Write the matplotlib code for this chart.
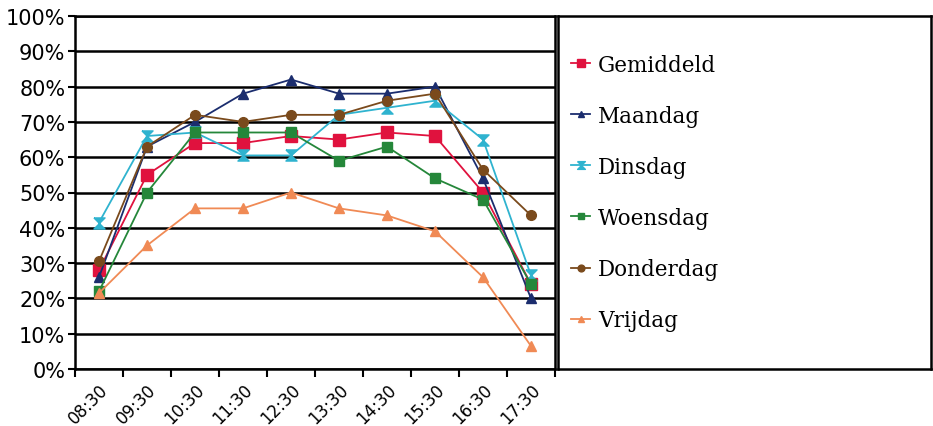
import matplotlib.pyplot as plt
import numpy as np

times = ["08:30", "09:30", "10:30", "11:30", "12:30", "13:30", "14:30", "15:30", "16:30", "17:30"]

gemiddeld = [28, 55, 64, 64, 66, 65, 67, 66, 50, 24]
maandag   = [26, 63, 70, 78, 82, 78, 78, 80, 54, 20]
dinsdag   = [41.5, 66, 67, 60.5, 60.5, 72, 74, 76, 65, 26.5]
woensdag  = [22, 50, 67, 67, 67, 59, 63, 54, 48, 24]
donderdag = [30.5, 63, 72, 70, 72, 72, 76, 78, 56.5, 43.5]
vrijdag   = [21.5, 35, 45.5, 45.5, 50, 45.5, 43.5, 39, 26, 6.5]

hourglass = [(-1, 1), (1, 1), (-1, -1), (1, -1), (-1, 1)]

series = [
    ("Gemiddeld", gemiddeld, "#e0123e", "s", 8),
    ("Maandag",   maandag,   "#1b2d6e", "^", 7),
    ("Dinsdag",   dinsdag,   "#2fb3cf", hourglass, 8),
    ("Woensdag",  woensdag,  "#25873a", "s", 7),
    ("Donderdag", donderdag, "#7a4a1c", "o", 7),
    ("Vrijdag",   vrijdag,   "#f08a55", "^", 7),
]

fig = plt.figure(figsize=(9.33, 4.27), dpi=100)
ax = fig.add_axes([75/933, 1 - 370/427, 480/933, 353/427])

xs = np.arange(len(times))
handles = []
for name, vals, color, marker, ms in series:
    h, = ax.plot(xs, vals, color=color, marker=marker, markersize=ms,
                 linewidth=1.3, label=name)
    handles.append(h)

ax.set_xlim(-0.5, len(times) - 0.5)
ax.set_ylim(0, 100)
ax.set_yticks(np.arange(0, 101, 10))
ax.set_yticklabels([f"{v}%" for v in range(0, 101, 10)], fontsize=15, family="DejaVu Sans")
ax.yaxis.grid(True, color="black", linewidth=1.8)
ax.set_axisbelow(True)

ax.set_xticks(xs)
ax.set_xticklabels(times, rotation=45, ha="right", rotation_mode="anchor",
                   fontsize=12, family="DejaVu Sans")
ax.tick_params(axis="x", which="major", length=0, pad=8)
ax.set_xticks(np.arange(-0.5, len(times)), minor=True)
ax.tick_params(axis="x", which="minor", length=6, width=1.5, direction="out")
ax.tick_params(axis="y", length=5, width=1.5, pad=2)

for s in ax.spines.values():
    s.set_linewidth(1.8)
    s.set_color("black")

lax = fig.add_axes([558/933, 1 - 370/427, 373/933, 353/427])
lax.set_xticks([])
lax.set_yticks([])
for s in lax.spines.values():
    s.set_linewidth(1.8)
lax.legend(handles=handles, loc="center left", bbox_to_anchor=(0.0, 0.5),
           frameon=False, prop={"family": "DejaVu Serif", "size": 15.5},
           handlelength=0.9, handletextpad=0.35, labelspacing=1.35, borderaxespad=0.2,
           markerscale=0.7)

fig.savefig("out.png", dpi=100)
